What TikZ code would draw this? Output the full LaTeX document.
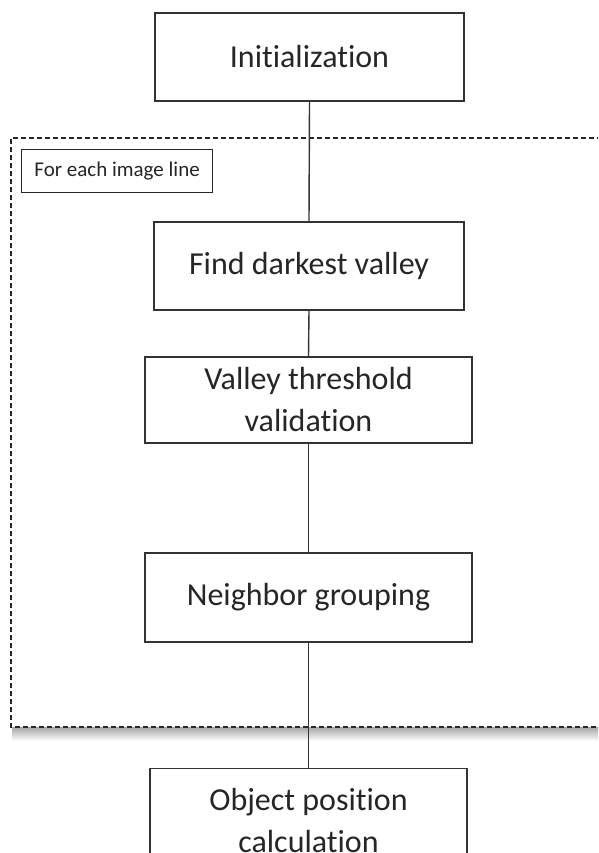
\documentclass[tikz,border=0pt]{standalone}
\usepackage{fontspec}
\setmainfont{Carlito}[Ligatures={NoCommon}]
\begin{document}
\begin{tikzpicture}[x=1pt,y=-1pt,
  stepbox/.style={draw=black!80,line width=1.3pt,fill=white,text=black!85,
    minimum width=#1,minimum height=88,inner sep=0pt,align=center,
    font=\fontsize{32}{42}\selectfont},
  lbl/.style={draw=black!85,line width=1.2pt,fill=white,text=black!85,
    minimum width=191,minimum height=43,inner sep=0pt,anchor=north west,
    font=\fontsize{21}{25}\selectfont},
  conn/.style={draw=black!80,line width=1.4pt},
  loopbox/.style={draw=black!85,line width=1.6pt,dash pattern=on 5pt off 3pt}]
\clip (0,0) rectangle (598,853);
\fill[white] (0,0) rectangle (598,853);
% shadow of loop region
\shade[top color=black!35,bottom color=white] (12,727) rectangle (610,741);
\fill[white] (10,139) rectangle (610,727);
\draw[loopbox] (610,138) -- (11,138) -- (11,727) -- (610,727);
% nodes
\node[stepbox=309] (init) at (309.5,57) {Initialization};
\node[stepbox=310] (find) at (309,266) {Find darkest valley};
\node[stepbox=327,minimum height=86] (valid) at (308.5,400) {Valley threshold\\validation};
\node[stepbox=327,minimum height=89] (group) at (308.5,597.5) {Neighbor grouping};
\node[stepbox=317,minimum height=104,anchor=north] (obj) at (308.5,768) {Object position\\calculation};
\node[lbl] (label) at (21,149) {For each image line};
% connectors
\draw[conn] (init.south) -- (find.north);
\draw[conn] (find.south) -- (valid.north);
\draw[conn] (valid.south) -- (group.north);
\draw[conn] (group.south) -- (obj.north);
\end{tikzpicture}
\end{document}
